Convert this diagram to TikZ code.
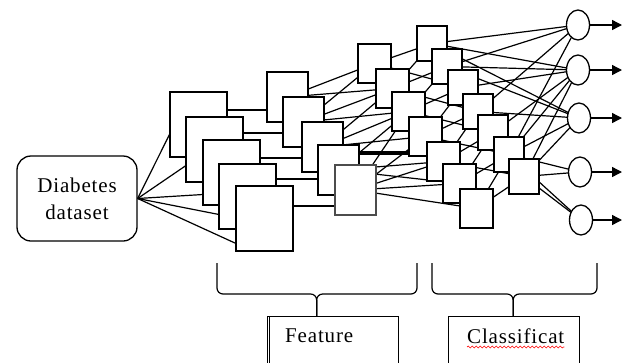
\documentclass[tikz,border=0pt]{standalone}
\usepackage{fontspec}
\setmainfont{Liberation Serif}
\usetikzlibrary{arrows.meta,backgrounds,shapes.geometric,decorations.pathmorphing}
\tikzset{
	sq/.style={draw, fill=white, line width=1.4pt, inner sep=0pt, outer sep=0pt, anchor=north west},
	neuron/.style={draw, ellipse, fill=white, line width=1.3pt, minimum width=23pt, minimum height=30pt, inner sep=0pt, outer sep=0pt},
	databox/.style={draw, rounded corners=14pt, line width=1.3pt, minimum width=120pt, minimum height=85pt, align=center, font=\fontsize{21}{27}\selectfont\addfontfeature{LetterSpace=4}},
	labbox/.style={draw, line width=1.3pt, minimum width=131pt, minimum height=60pt, inner sep=0pt, anchor=north west},
	txt/.style={inner sep=0pt, font=\fontsize{21}{24}\selectfont\addfontfeature{LetterSpace=4}, anchor=base west},
	wire/.style={line width=1.2pt},
	brace/.style={line width=1.2pt, rounded corners=6pt},
	outarrow/.style={line width=1.4pt, -{Triangle[length=10pt,width=10pt]}},
	wavy/.style={red, line width=0.6pt, decorate, decoration={snake, segment length=4pt, amplitude=0.9pt}}
}

\begin{document}
\begin{tikzpicture}[x=1pt,y=-1pt]
	%%%%% START %%%%%
	\clip (0,0) rectangle (626,362);
	
	\node[databox] (data) at (77,198.5) {Diabetes\\dataset};
	
	% feature layers
	\foreach \i/\x/\y in {1/170/92,2/186/117,3/203/140,4/219/164,5/236/186}
		\node[sq, minimum width=57pt, minimum height=65pt] (a\i) at (\x,\y) {};
	\foreach \i/\x/\y/\c in {1/267/72/black,2/283/97/black,3/302/122/black,4/318/145/black,5/335/165/black!70}
		\node[sq, draw=\c, minimum width=41pt, minimum height=50pt] (b\i) at (\x,\y) {};
	
	% classification layers
	\foreach \i/\x/\y in {1/358/44,2/376/69,3/392/92,4/409/117,5/427/142,6/443/164,7/460/189}
		\node[sq, minimum width=33pt, minimum height=39pt] (c\i) at (\x,\y) {};
	\foreach \i/\x/\y in {1/417/26,2/432/49,3/448/70,4/463/94,5/478/115,6/494/137,7/509/159}
		\node[sq, minimum width=30pt, minimum height=35pt] (d\i) at (\x,\y) {};
	
	% outputs
	\foreach \i/\x/\y in {1/578/25,2/578/70,3/579/118,4/580/172,5/581/220} {
		\node[neuron] (o\i) at (\x,\y) {};
		\coordinate (e\i) at (622,\y);
		\draw[outarrow] (o\i.east) -- (e\i);
	}
	
	\begin{scope}[on background layer]
		\foreach \i/\s in {1/-9,2/-16,3/-22,4/-18,5/-25}
			\draw[wire] (data.east) -- ([yshift=\s pt]a\i.west);
		\foreach \i/\y in {1/110,2/133,3/158,4/179,5/206}
			\draw[wire] (a\i.center |- 0,\y) -- (b\i.center |- 0,\y);
		\foreach \i/\j in {1/1,1/2,2/1,2/2,2/3,3/2,3/3,3/4,4/3,4/5,4/6,5/3,5/4,5/5,5/6,5/7}
			\draw[wire] (b\i) -- (c\j);
		\foreach \i/\j in {1/1,1/3,2/1,2/2,2/4,3/2,3/3,3/5,4/3,4/4,4/6,5/4,5/5,5/7,6/5,6/6,7/6,7/7}
			\draw[wire] (c\i) -- (d\j);
		\foreach \i/\j in {1/1,1/2,1/3,2/1,2/2,2/3,3/2,4/1,4/3,5/2,6/1,6/2,6/3,6/4,6/5,7/2,7/3,7/4,7/5}
			\draw[wire] (d\i) -- (o\j);
		\draw[line width=4pt] ([yshift=-8pt]b4.north east) coordinate (t) -- (t -| c4.west);
	\end{scope}
	
	% brackets and labels
	\node[labbox] (feat) at (267,316) {};
	\draw[line width=1.2pt] ([xshift=2.5pt]feat.north west) -- ([xshift=2.5pt]feat.south west);
	\node[txt] (feattxt) at ([xshift=18pt,yshift=-26pt]feat.north west) {Feature};
	\node[labbox] (cls) at (448,316) {};
	\node[txt] (clstxt) at ([xshift=19pt,yshift=-27pt]cls.north west) {Classificat};
	\draw[wavy] ([yshift=-4pt]clstxt.base west) -- ([yshift=-4pt]clstxt.base east);
	
	\coordinate (fl) at (217,263);
	\coordinate (fr) at (417,263);
	\coordinate (cl) at (432,263);
	\coordinate (cr) at (597,263);
	\draw[brace] (fl) -- ++(0,31) -| ([xshift=-16.5pt]feat.north);
	\draw[brace] (fr) -- ++(0,31) -| ([xshift=-16.5pt]feat.north);
	\draw[brace] (cl) -- ++(0,31) -| ([xshift=-1pt]cls.north);
	\draw[brace] (cr) -- ++(0,31) -| ([xshift=-1pt]cls.north);
	
	%%%%% END %%%%%
\end{tikzpicture}
\end{document}
